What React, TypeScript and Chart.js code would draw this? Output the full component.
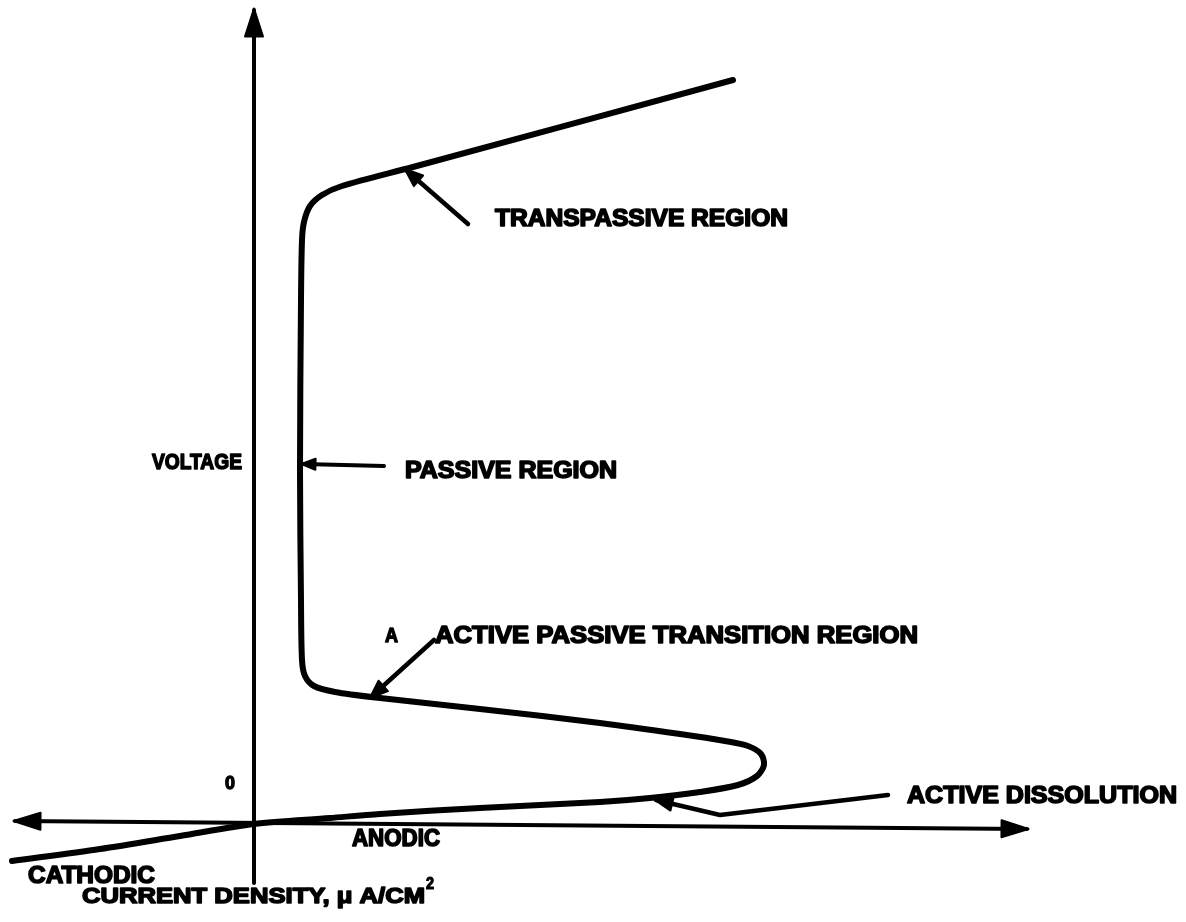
import { useEffect, useRef } from "react";
import { Chart, registerables } from "chart.js";

Chart.register(...registerables);

// Polarization curve (current density vs voltage), arbitrary units, origin at axis crossing
const curveX = [-24.2, -15.4, -7.4, 0, 7.6, 12.6, 22.6, 34.6, 39.6, 44.6, 48.4, 50.3, 51.0, 50.7, 49.4, 47.1, 42.6, 34.6, 22.6, 12.6, 8.1, 6.0, 5.1, 4.8, 4.7, 4.6, 4.7, 4.8, 5.0, 5.6, 6.8, 8.8, 15.9, 47.9];
const curveY = [-3.8, -2.6, -1.3, -0.1, 0.5, 0.9, 1.5, 2.1, 2.5, 3.1, 3.8, 4.7, 5.8, 6.9, 7.7, 8.2, 8.9, 10.0, 11.4, 12.5, 13.1, 13.7, 14.7, 16.3, 22.3, 35.3, 52.3, 58.3, 60.1, 61.7, 62.8, 63.7, 65.6, 74.3];

// Axes
const xAxisX = [-23.9, 77.3];
const xAxisY = [0.2, -0.6];
const yAxisX = [0, 0];
const yAxisY = [-6.0, 81.3];

// Pointer arrows (last point is the tip)
const transX = [21.4, 15.2];
const transY = [59.9, 65.3];
const passX = [13.0, 4.9];
const passY = [35.7, 35.9];
const trnsX = [18.0, 11.7];
const trnsY = [18.3, 12.6];
const dissX = [63.4, 46.6, 40.2];
const dissY = [2.8, 0.8, 2.3];

// Labels
const labelTexts = [
  "TRANSPASSIVE REGION",
  "PASSIVE REGION",
  "VOLTAGE",
  "A",
  "ACTIVE PASSIVE TRANSITION REGION",
  "0",
  "ACTIVE DISSOLUTION",
  "ANODIC",
  "CATHODIC",
  "CURRENT DENSITY, \u03BC A/CM",
  "2",
];
const labelX0 = [24.1, 15.1, -10.2, 13.1, 18.1, -2.9, 65.3, 9.8, -22.6, -17.2, 17.2];
const labelX1 = [53.4, 36.3, -1.2, 14.4, 66.4, -1.9, 92.3, 18.6, -9.9, 17.1, 18.0];
const labelY = [60.5, 35.3, 36.2, 18.9, 18.8, 4.1, 2.8, -1.5, -5.2, -7.2, -6.0];
const labelSize = [23, 23, 22, 21, 23, 19, 23, 23, 23, 22, 16];

const pts = (xs: number[], ys: number[]) => xs.map((x, i) => ({ x, y: ys[i] }));

const arrowPlugin = {
  id: "arrowheads",
  afterDatasetsDraw(chart: any) {
    const ctx = chart.ctx;
    ctx.save();
    ctx.fillStyle = "#000";
    ctx.strokeStyle = "#000";
    ctx.lineJoin = "round";
    ctx.lineWidth = 2;
    chart.data.datasets.forEach((ds: any, i: number) => {
      const p = chart.getDatasetMeta(i).data;
      const draw = (tip: any, from: any, len: number, half: number) => {
        const dx = tip.x - from.x;
        const dy = tip.y - from.y;
        const d = Math.hypot(dx, dy) || 1;
        const ux = dx / d;
        const uy = dy / d;
        const tx = tip.x + ux * 1.5;
        const ty = tip.y + uy * 1.5;
        const bx = tx - ux * len;
        const by = ty - uy * len;
        ctx.beginPath();
        ctx.moveTo(tx, ty);
        ctx.lineTo(bx - uy * half, by + ux * half);
        ctx.lineTo(bx + uy * half, by - ux * half);
        ctx.closePath();
        ctx.fill();
        ctx.stroke();
      };
      if (ds.arrowEnd) draw(p[p.length - 1], p[p.length - 2], ds.arrowLen, ds.arrowHalf);
      if (ds.arrowStart) draw(p[0], p[1], ds.arrowLen, ds.arrowHalf);
    });
    ctx.restore();
  },
};

const labelPlugin = {
  id: "labels",
  afterDatasetsDraw(chart: any) {
    const ctx = chart.ctx;
    const xs = chart.scales.x;
    const ys = chart.scales.y;
    ctx.save();
    ctx.fillStyle = "#000";
    ctx.strokeStyle = "#000";
    ctx.lineJoin = "round";
    labelTexts.forEach((t, i) => {
      const size = labelSize[i];
      ctx.font = `bold ${size}px "Liberation Sans", Arial, sans-serif`;
      const w = ctx.measureText(t).width;
      const px0 = xs.getPixelForValue(labelX0[i]);
      const px1 = xs.getPixelForValue(labelX1[i]);
      const py = ys.getPixelForValue(labelY[i]);
      const sx = (px1 - px0) / w;
      ctx.save();
      ctx.translate(px0, py + size * 0.36);
      ctx.scale(sx, 1);
      ctx.textBaseline = "alphabetic";
      ctx.textAlign = "left";
      ctx.lineWidth = size * 0.07;
      ctx.fillText(t, 0, 0);
      ctx.strokeText(t, 0, 0);
      ctx.restore();
    });
    ctx.restore();
  },
};

export default function App() {
  const ref = useRef<HTMLCanvasElement | null>(null);
  useEffect(() => {
    if (!ref.current) return;
    const line = (data: any, extra: any = {}) => ({
      data,
      showLine: true,
      borderColor: "#000",
      backgroundColor: "#000",
      pointRadius: 0,
      tension: 0,
      borderCapStyle: "round",
      borderJoinStyle: "round",
      ...extra,
    });
    const chart = new Chart(ref.current, {
      type: "scatter",
      data: {
        datasets: [
          line(pts(xAxisX, xAxisY), { borderWidth: 4, arrowEnd: true, arrowStart: true, arrowLen: 27, arrowHalf: 8.5 }),
          line(pts(yAxisX, yAxisY), { borderWidth: 4, arrowEnd: true, arrowLen: 28, arrowHalf: 9 }),
          line(pts(curveX, curveY), { borderWidth: 6, tension: 0.3 }),
          line(pts(transX, transY), { borderWidth: 4.5, arrowEnd: true, arrowLen: 18, arrowHalf: 7 }),
          line(pts(passX, passY), { borderWidth: 4, arrowEnd: true, arrowLen: 14, arrowHalf: 5.5 }),
          line(pts(trnsX, trnsY), { borderWidth: 4.5, arrowEnd: true, arrowLen: 18, arrowHalf: 7 }),
          line(pts(dissX, dissY), { borderWidth: 4.5, arrowEnd: true, arrowLen: 18, arrowHalf: 7 }),
        ] as any,
      },
      options: {
        animation: false,
        responsive: false,
        events: [],
        layout: { padding: 0 },
        plugins: { legend: { display: false }, tooltip: { enabled: false }, title: { display: false } },
        scales: {
          x: { type: "linear", min: -25.4, max: 93.2, display: false },
          y: { type: "linear", min: -9.9, max: 82.3, display: false },
        },
      },
      plugins: [arrowPlugin, labelPlugin],
    });
    return () => chart.destroy();
  }, []);
  return (
    <div style={{ position: "fixed", left: 0, top: 0, width: 1186, height: 922, background: "#fff" }}>
      <canvas ref={ref} width={1186} height={922} />
    </div>
  );
}
